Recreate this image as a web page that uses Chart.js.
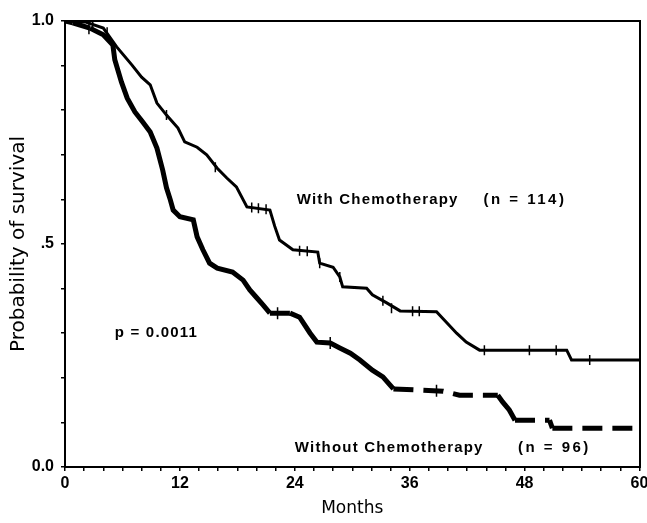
<!DOCTYPE html>
<html>
<head>
<meta charset="utf-8">
<script src="https://cdn.jsdelivr.net/npm/chart.js@4/dist/chart.umd.min.js"></script>
<style>
  html, body { margin: 0; padding: 0; background: #fff; }
  #wrap { width: 647px; height: 523px; }
</style>
</head>
<body>
<div id="wrap"><canvas id="km-chart"></canvas></div>
<script>
// survival curves (months, probability)
const withTime = [0, 2.1, 4.0, 5.4, 7.0, 8.0, 8.9, 9.6, 10.6, 11.8, 12.5, 13.8, 14.8, 15.9, 16.9, 17.9, 19.0, 21.4, 21.9, 22.4, 23.8, 26.4, 26.6, 28.0, 28.7, 29.0, 31.5, 32.1, 33.6, 35.0, 38.8, 39.9, 40.9, 41.9, 43.3, 52.4, 52.9, 60];
const withSurv = [1.0, 0.998, 0.984, 0.942, 0.901, 0.874, 0.857, 0.816, 0.789, 0.760, 0.729, 0.717, 0.700, 0.670, 0.648, 0.628, 0.583, 0.576, 0.540, 0.509, 0.487, 0.482, 0.457, 0.448, 0.426, 0.404, 0.401, 0.386, 0.368, 0.350, 0.348, 0.323, 0.300, 0.280, 0.262, 0.262, 0.240, 0.240];

const withoutTime = [0, 0.8, 2.6, 4.0, 5.0, 5.2, 5.9, 6.5, 7.3, 8.1, 8.9, 9.6, 10.2, 10.6, 11.0, 11.3, 12.0, 13.4, 13.8, 14.4, 15.1, 15.9, 17.5, 18.6, 19.3, 20.0, 20.7, 21.4, 23.5, 24.5, 25.6, 26.3, 27.7, 28.7, 29.8, 30.8, 32.1, 33.2, 34.3, 39.5, 41.2, 45.2, 45.7, 46.4, 47.0, 50.6, 50.9, 60];
const withoutSurv = [1.0, 0.996, 0.984, 0.969, 0.946, 0.913, 0.863, 0.827, 0.796, 0.774, 0.751, 0.715, 0.666, 0.626, 0.599, 0.576, 0.561, 0.554, 0.516, 0.487, 0.457, 0.446, 0.437, 0.419, 0.397, 0.380, 0.363, 0.345, 0.345, 0.336, 0.300, 0.280, 0.278, 0.267, 0.255, 0.240, 0.217, 0.202, 0.175, 0.170, 0.161, 0.161, 0.146, 0.128, 0.105, 0.105, 0.087, 0.087];

// censored observations (tick marks)
const withCensorTime = [2.9, 4.4, 10.6, 15.7, 19.5, 20.2, 21.0, 24.5, 25.3, 26.6, 28.7, 33.2, 34.1, 36.3, 37.0, 43.8, 48.5, 51.3, 54.8];
const withCensorSurv = [0.990, 0.975, 0.789, 0.672, 0.582, 0.580, 0.578, 0.485, 0.484, 0.457, 0.426, 0.373, 0.356, 0.349, 0.349, 0.262, 0.262, 0.262, 0.240];
const withoutCensorTime = [2.5, 22.2, 27.7, 38.8];
const withoutCensorSurv = [0.984, 0.345, 0.278, 0.171];

const xTickLabels = ['0', '12', '24', '36', '48', '60'];
const yTickLabels = { '0': '0.0', '0.5': '.5', '1': '1.0' };

const noteText = ['With Chemotherapy', '(n = 114)', 'p = 0.0011', 'Without Chemotherapy', '(n = 96)'];
const noteX = [24.2, 43.7, 5.2, 24.0, 47.3];
const noteY = [0.60, 0.60, 0.30, 0.043, 0.043];

const toPoints = (xs, ys) => xs.map((x, i) => ({ x: x, y: ys[i] }));

const notesPlugin = {
    id: 'notes',
    afterDatasetsDraw(chart) {
        const ctx = chart.ctx;
        const xs = chart.scales.x, ys = chart.scales.y;
        ctx.save();
        ctx.fillStyle = '#000';
        ctx.font = 'bold 15px "Liberation Sans", Arial, sans-serif';
        ctx.textBaseline = 'middle';
        ctx.textAlign = 'left';
        noteText.forEach((t, i) => {
            // the "(n = ...)" labels are spaced a bit wider in the original
            ctx.letterSpacing = t.startsWith('(') ? '2.5px' : '1.2px';
            ctx.fillText(t, xs.getPixelForValue(noteX[i]), ys.getPixelForValue(noteY[i]));
        });
        ctx.restore();
    }
};

const tickFont = { family: '"Liberation Sans", Arial, sans-serif', size: 16, weight: 'bold' };

new Chart(document.getElementById('km-chart').getContext('2d'), {
    type: 'line',
    data: {
        datasets: [
            {
                label: 'With Chemotherapy',
                data: toPoints(withTime, withSurv),
                borderColor: '#000',
                borderWidth: 3,
                pointRadius: 0,
                tension: 0,
                fill: false
            },
            {
                label: 'Without Chemotherapy',
                data: toPoints(withoutTime, withoutSurv),
                borderColor: '#000',
                borderWidth: 5,
                pointRadius: 0,
                tension: 0,
                fill: false,
                segment: {
                    borderDash: ctx => (ctx.p1.parsed.x - ctx.p0.parsed.x > 1.65 ? [20, 10] : undefined)
                }
            },
            {
                type: 'scatter',
                label: 'censored with',
                data: toPoints(withCensorTime, withCensorSurv),
                pointStyle: 'line',
                rotation: 90,
                pointRadius: 5,
                borderColor: '#000',
                borderWidth: 1.5,
                showLine: false
            },
            {
                type: 'scatter',
                label: 'censored without',
                data: toPoints(withoutCensorTime, withoutCensorSurv),
                pointStyle: 'line',
                rotation: 90,
                pointRadius: 6,
                borderColor: '#000',
                borderWidth: 1.5,
                showLine: false
            }
        ]
    },
    options: {
        responsive: true,
        maintainAspectRatio: false,
        animation: false,
        layout: { padding: { left: 0, right: 7, top: 21, bottom: 0 } },
        plugins: {
            legend: { display: false },
            tooltip: { enabled: false }
        },
        scales: {
            x: {
                type: 'linear',
                min: 0, max: 60,
                afterFit: s => { s.height = 56; s.paddingLeft = 0; s.paddingRight = 0; },
                border: { display: true, color: '#000', width: 2 },
                grid: { drawOnChartArea: false, drawTicks: true, tickLength: 4, color: '#000', lineWidth: 1.5 },
                ticks: {
                    stepSize: 2,
                    autoSkip: false,
                    maxRotation: 0,
                    color: '#000',
                    font: tickFont,
                    padding: 3,
                    callback: v => (xTickLabels.includes(String(v)) ? String(v) : '')
                },
                title: {
                    display: true, text: 'Months', color: '#000',
                    font: { family: '"DejaVu Sans", sans-serif', size: 17 },
                    padding: { top: 2 }
                }
            },
            y: {
                type: 'linear',
                min: 0, max: 1,
                afterFit: s => { s.width = 65; s.paddingTop = 0; s.paddingBottom = 0; },
                border: { display: true, color: '#000', width: 2 },
                grid: { drawOnChartArea: false, drawTicks: true, tickLength: 4, color: '#000', lineWidth: 1.5 },
                ticks: {
                    stepSize: 0.1,
                    autoSkip: false,
                    color: '#000',
                    font: tickFont,
                    padding: 7,
                    callback: v => yTickLabels[String(Math.round(v * 10) / 10)] || ''
                },
                title: {
                    display: true, text: 'Probability of survival', color: '#000',
                    font: { family: '"DejaVu Sans", sans-serif', size: 20 },
                    padding: { top: 7, bottom: 0 }
                }
            },
            xTop: {
                type: 'linear', position: 'top', min: 0, max: 60,
                afterFit: s => { s.height = 0; },
                border: { display: true, color: '#000', width: 2 },
                grid: { display: false },
                ticks: { display: false }
            },
            yRight: {
                type: 'linear', position: 'right', min: 0, max: 1,
                afterFit: s => { s.width = 0; },
                border: { display: true, color: '#000', width: 2 },
                grid: { display: false },
                ticks: { display: false }
            }
        }
    },
    plugins: [notesPlugin]
});
</script>
</body>
</html>
